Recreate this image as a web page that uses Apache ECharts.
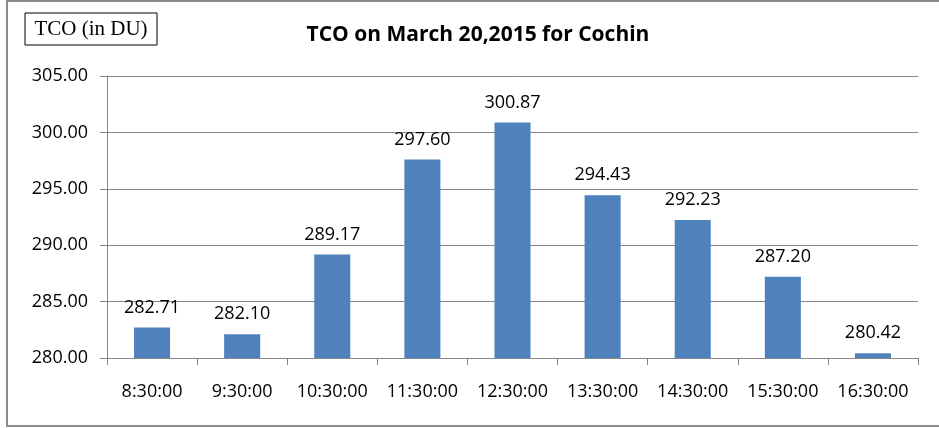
<!DOCTYPE html>
<html><head><meta charset="utf-8">
<script src="https://cdn.jsdelivr.net/npm/echarts@6/dist/echarts.min.js"></script>
<style>html,body{margin:0;padding:0;background:#fff}#c{width:939px;height:428px}</style>
</head><body><div id="c"></div>
<script>
const categories = ['8:30:00','9:30:00','10:30:00','11:30:00','12:30:00','13:30:00','14:30:00','15:30:00','16:30:00'];
const tcoValues = [282.71, 282.10, 289.17, 297.60, 300.87, 294.43, 292.23, 287.20, 280.42];
const titleText = 'TCO on March 20,2015 for Cochin';
const yAxisLabel = 'TCO (in DU)';

const chart = echarts.init(document.getElementById('c'));
const font = '"Open Sans", "Noto Sans", sans-serif';
chart.setOption({
  animation: false,
  title: {
    text: titleText, left: 473, top: 20, textAlign: 'center',
    textStyle: {fontFamily: font, fontWeight: 'bold', fontSize: 21, color: '#000'}
  },
  graphic: [
    {type: 'rect', shape: {x: 7, y: 1, width: 960, height: 425}, style: {fill: 'none', stroke: '#8c8c8c', lineWidth: 2}, silent: true},
    {type: 'rect', shape: {x: 25, y: 13, width: 132, height: 32}, style: {fill: '#fff', stroke: '#000', lineWidth: 1}, silent: true},
    {type: 'text', x: 91, y: 29, style: {text: yAxisLabel, fontFamily: '"Liberation Serif", serif', fontSize: 21, fill: '#000', align: 'center', verticalAlign: 'middle'}, silent: true}
  ],
  grid: {left: 107, right: 21, top: 76, bottom: 70},
  xAxis: {
    type: 'category', data: categories,
    axisLine: {lineStyle: {color: '#868686', width: 1}},
    axisTick: {show: true, alignWithLabel: false, length: 7, lineStyle: {color: '#868686'}},
    axisLabel: {interval: 0, hideOverlap: false, fontFamily: font, fontSize: 18, color: '#000', margin: 25}
  },
  yAxis: {
    type: 'value', min: 280, max: 305, interval: 5,
    axisLine: {show: true, lineStyle: {color: '#868686'}},
    axisTick: {show: true, length: 7, lineStyle: {color: '#868686'}},
    splitLine: {lineStyle: {color: '#868686', width: 1}},
    axisLabel: {fontFamily: font, fontSize: 18, color: '#000', margin: 19, formatter: v => v.toFixed(2)}
  },
  series: [{
    type: 'bar', data: tcoValues, barWidth: '40%',
    itemStyle: {color: '#4F81BD'},
    label: {show: true, position: 'top', distance: 11, fontFamily: font, fontSize: 18, color: '#000', formatter: p => p.value.toFixed(2)}
  }]
});
</script></body></html>
